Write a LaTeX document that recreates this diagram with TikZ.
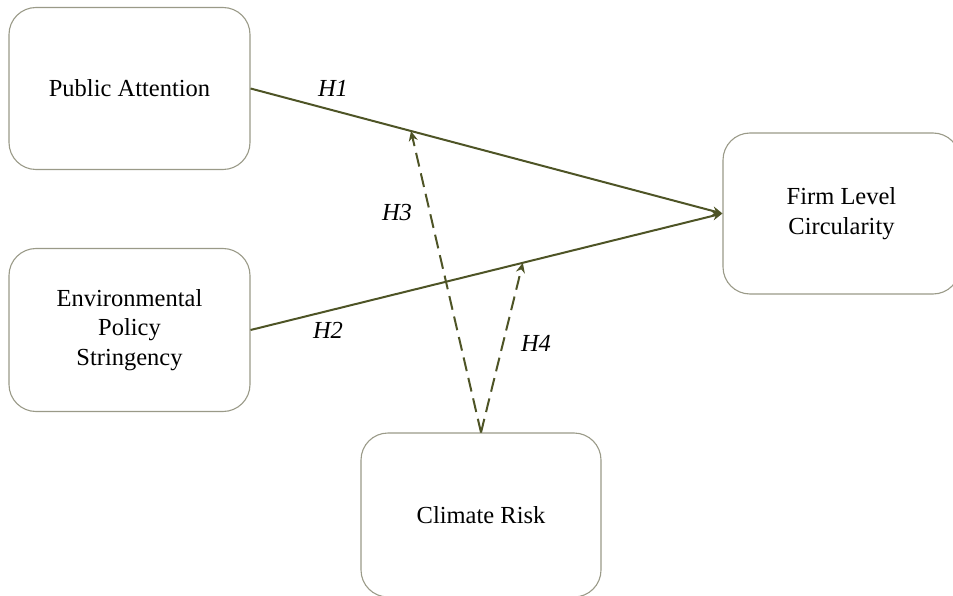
\documentclass[tikz,border=0pt]{standalone}
\usepackage{fontspec}
\setmainfont{Liberation Serif}
\usetikzlibrary{arrows.meta}
\definecolor{olive}{HTML}{4E5426}
\definecolor{boxline}{HTML}{9A9A88}
\begin{document}
\begin{tikzpicture}[x=1pt,y=-1pt,
  box/.style={draw=boxline,line width=1.1pt,rounded corners=27pt,fill=white,
    align=center,inner sep=0pt,
    font=\fontsize{24.5}{29.5}\selectfont},
  conn/.style={draw=olive,line width=2pt,-{Stealth[length=10pt,width=9pt]}},
  dconn/.style={conn,dash pattern=on 14pt off 7pt},
  hlab/.style={font=\fontsize{24.5}{29}\selectfont\itshape,text=black}]
\useasboundingbox (0,0) rectangle (953,596);
\node[box,minimum width=241pt,minimum height=162pt] (pa) at (129.5,88.5) {Public Attention};
\node[box,minimum width=241pt,minimum height=163pt] (eps) at (129.5,330) {Environmental\\Policy\\Stringency};
\node[box,minimum width=237pt,minimum height=161pt] (flc) at (841.5,213.5) {Firm Level\\Circularity};
\node[box,minimum width=240pt,minimum height=164pt] (cr) at (481,515) {Climate Risk};
\draw[conn] (pa.east) -- (flc.west) coordinate[pos=0.34] (t3);
\draw[conn] (eps.east) -- (flc.west) coordinate[pos=0.577] (t4);
\draw[dconn] (cr.north) -- (t3);
\draw[dconn] (cr.north) -- (t4);
\node[hlab] (h1) at (333,88) {H1};
\node[hlab] (h2) at (328,330) {H2};
\node[hlab] (h3) at (397,213) {H3};
\node[hlab] (h4) at (536,343) {H4};
\end{tikzpicture}
\end{document}
